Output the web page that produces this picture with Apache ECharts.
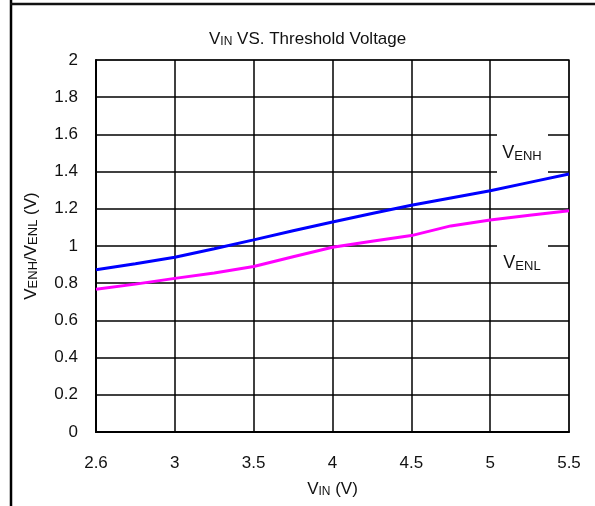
<!DOCTYPE html>
<html>
<head>
<meta charset="utf-8">
<script src="https://cdn.jsdelivr.net/npm/echarts@6/dist/echarts.min.js"></script>
<style>
html,body{margin:0;padding:0;background:#fff;}
#c{width:595px;height:506px;}
</style>
</head>
<body>
<div id="c"></div>
<script>
// Data
const vinCategories = ['2.6','2.8','3','3.25','3.5','3.75','4','4.25','4.5','4.75','5','5.25','5.5'];
const venhValues = [0.872,0.905,0.940,0.985,1.033,1.082,1.129,1.175,1.219,1.258,1.297,1.342,1.387];
const venlValues = [0.767,0.795,0.826,0.855,0.890,0.942,0.993,1.025,1.056,1.108,1.140,1.165,1.190];
const yTicks = {min:0, max:2, step:0.2};

const FONT = '"Liberation Sans",Arial,sans-serif';
const chart = echarts.init(document.getElementById('c'), null, {renderer:'canvas'});

const richMain = {
  a:{fontFamily:FONT,fontSize:17,fontWeight:'normal',color:'#111',verticalAlign:'bottom',lineHeight:19},
  b:{fontFamily:FONT,fontSize:12,fontWeight:'normal',color:'#111',verticalAlign:'bottom',lineHeight:15}
};

chart.setOption({
  backgroundColor:'#fff',
  animation:false,
  textStyle:{fontFamily:FONT, color:'#111'},
  title:{
    left:204, top:24,
    text:'{a|V}{b|IN}{a| VS. Threshold Voltage}',
    textStyle:{fontWeight:'normal', rich:richMain}
  },
  grid:{left:96,right:26,top:60,bottom:74,show:true,borderColor:'#8c8c8c',borderWidth:2,backgroundColor:'transparent'},
  xAxis:{
    type:'category',
    data:vinCategories,
    boundaryGap:false,
    axisLine:{lineStyle:{color:'#000',width:2}},
    axisTick:{show:false},
    axisLabel:{interval:1,fontFamily:FONT,fontSize:17,color:'#111',margin:23},
    splitLine:{show:true,interval:1,lineStyle:{color:'#000',width:1.5}},
    name:'{a|V}{b|IN}{a| (V)}',
    nameLocation:'middle',
    nameGap:47,
    nameTextStyle:{rich:richMain}
  },
  yAxis:{
    type:'value',
    min:yTicks.min, max:yTicks.max, interval:yTicks.step,
    axisLine:{show:true,lineStyle:{color:'#000',width:2}},
    axisTick:{show:false},
    axisLabel:{fontFamily:FONT,fontSize:17,color:'#111',margin:18},
    splitLine:{show:true,lineStyle:{color:'#000',width:1.5}},
    name:'{a|V}{b|ENH}{a|/V}{b|ENL}{a| (V)}',
    nameLocation:'middle',
    nameGap:56,
    nameTextStyle:{rich:{
      a:{fontFamily:FONT,fontSize:17,color:'#111',verticalAlign:'bottom',lineHeight:19},
      b:{fontFamily:FONT,fontSize:13,color:'#111',verticalAlign:'bottom',lineHeight:17}
    }}
  },
  series:[
    {name:'VENH',type:'line',data:venhValues,showSymbol:false,lineStyle:{color:'#0000ff',width:3},z:5},
    {name:'VENL',type:'line',data:venlValues,showSymbol:false,lineStyle:{color:'#ff00ff',width:3},z:5}
  ],
  graphic:[
    {type:'line',shape:{x1:11,y1:0,x2:11,y2:506},style:{stroke:'#000',lineWidth:2.5}},
    {type:'line',shape:{x1:10,y1:4,x2:595,y2:4},style:{stroke:'#111',lineWidth:2.5}},
    {type:'rect',shape:{x:497,y:130,width:51,height:46},style:{fill:'#fff'},z:10},
    {type:'text',x:522,y:153,z:11,style:{
      text:'{a|V}{b|ENH}',align:'center',verticalAlign:'middle',
      rich:{
        a:{fontFamily:FONT,fontSize:18,fill:'#111',verticalAlign:'bottom',lineHeight:19},
        b:{fontFamily:FONT,fontSize:13,fill:'#111',verticalAlign:'bottom',lineHeight:16}
      }}},
    {type:'rect',shape:{x:497,y:236,width:51,height:44},style:{fill:'#fff'},z:10},
    {type:'text',x:522,y:263,z:11,style:{
      text:'{a|V}{b|ENL}',align:'center',verticalAlign:'middle',
      rich:{
        a:{fontFamily:FONT,fontSize:18,fill:'#111',verticalAlign:'bottom',lineHeight:19},
        b:{fontFamily:FONT,fontSize:13,fill:'#111',verticalAlign:'bottom',lineHeight:16}
      }}}
  ]
});
</script>
</body>
</html>
